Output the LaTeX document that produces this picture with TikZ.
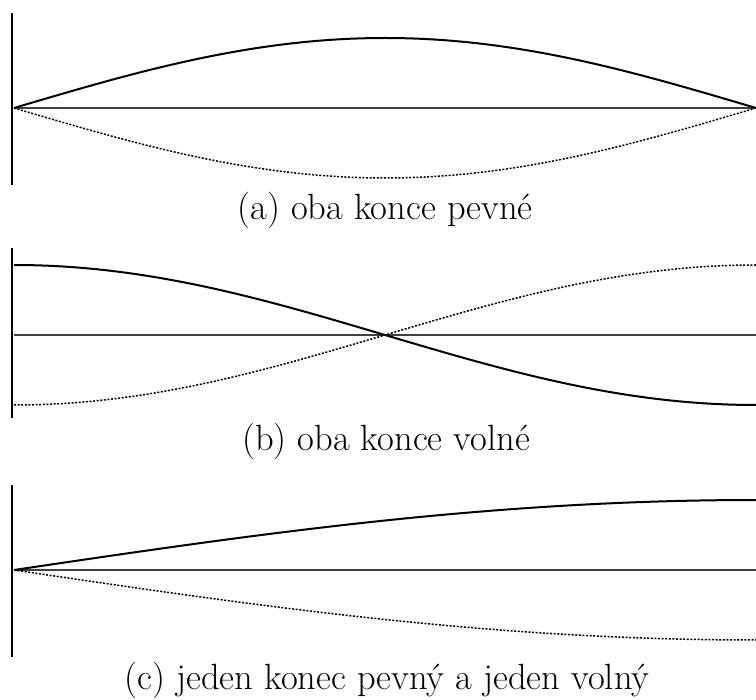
\documentclass[tikz,border=0pt]{standalone}
\usepackage{fontspec}
\setmainfont{Latin Modern Roman}
\begin{document}
\begin{tikzpicture}[x=1pt,y=-1pt,
  wall/.style={line width=1.3pt,black},
  axisline/.style={line width=1.4pt,black!75},
  mode/.style={line width=2pt,black},
  mirror/.style={line width=1.5pt,black,dash pattern=on 2pt off 1.6pt},
  caption/.style={anchor=base,inner sep=0pt,font=\fontsize{36.5}{44}\selectfont}]
\useasboundingbox (0,0) rectangle (756,700);
% (a)
\draw[wall] (12,13) -- (12,185);
\draw[axisline] (14,108) -- (756,108);
\draw[mode] plot[domain=14:756,samples=120,smooth] ({\x},{108-70*sin((\x-14)*0.242588)});
\draw[mirror] plot[domain=14:756,samples=120,smooth] ({\x},{108+70*sin((\x-14)*0.242588)});
\node[caption] (la) at (385,220) {(a) oba konce pevné};
% (b)
\draw[wall] (12,248) -- (12,418);
\draw[axisline] (14,335) -- (756,335);
\draw[mode] plot[domain=14:756,samples=120,smooth] ({\x},{335-70*cos((\x-14)*0.242588)});
\draw[mirror] plot[domain=14:756,samples=120,smooth] ({\x},{335+70*cos((\x-14)*0.242588)});
\node[caption] (lb) at (386,451) {(b) oba konce volné};
% (c)
\draw[wall] (12,485) -- (12,657);
\draw[axisline] (14,570) -- (756,570);
\draw[mode] plot[domain=14:756,samples=120,smooth] ({\x},{570-70*sin((\x-14)*0.121294)});
\draw[mirror] plot[domain=14:756,samples=120,smooth] ({\x},{570+70*sin((\x-14)*0.121294)});
\node[caption] (lc) at (387,689) {(c) jeden konec pevný a jeden volný};
\end{tikzpicture}
\end{document}
